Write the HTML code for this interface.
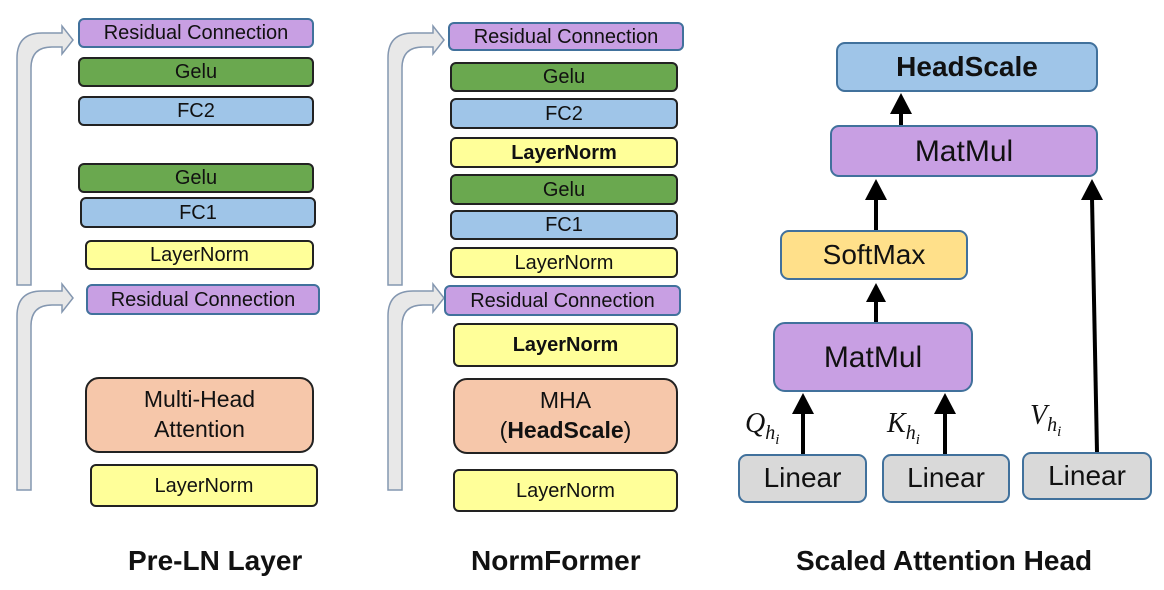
<!DOCTYPE html>
<html><head><meta charset="utf-8"><style>
body{margin:0;width:1164px;height:590px;background:#fff;position:relative;overflow:hidden;font-family:"Liberation Sans",sans-serif}
.b{position:absolute;box-sizing:border-box;border:2px solid #222;border-radius:6px;display:flex;align-items:center;justify-content:center;text-align:center;font-size:20px;color:#111;line-height:1.3}
.p{background:#c89fe3;border-color:#41719c}
.g{background:#6aa84f}
.bl{background:#9fc5e8}
.y{background:#ffff99}
.o{background:#f6c7aa;border-radius:14px;font-size:23px}
.lin{background:#d9d9d9;border-color:#41719c;border-radius:9px;font-size:28px}
.t{position:absolute;font-weight:bold;font-size:28px;color:#111;white-space:nowrap}
.m{position:absolute;font-family:"Liberation Serif",serif;font-style:italic;font-size:28px;color:#111}
.m sub{font-size:20px}
.m sub sub{font-size:15px}
</style></head><body>
<svg width="1164" height="590" style="position:absolute;left:0;top:0">
<g fill="#e8e8e8" stroke="#8497b0" stroke-width="1.5">
<path d="M17 285 L17 58 Q17 33 42 33 L62 33 L62 26 L73 40 L62 54 L62 47 L52 47 Q31 47 31 68 L31 285 Z"/>
<path d="M17 490 L17 316 Q17 291 42 291 L62 291 L62 284 L73 298 L62 312 L62 305 L52 305 Q31 305 31 326 L31 490 Z"/>
<path d="M388 285 L388 58 Q388 33 413 33 L433 33 L433 26 L444 40 L433 54 L433 47 L423 47 Q402 47 402 68 L402 285 Z"/>
<path d="M388 490 L388 316 Q388 291 413 291 L433 291 L433 284 L444 298 L433 312 L433 305 L423 305 Q402 305 402 326 L402 490 Z"/>
</g>
<g stroke="#000" stroke-width="4" fill="#000">
<line x1="803" y1="454" x2="803" y2="412"/><path d="M792 414 L803 393 L814 414Z" stroke="none"/>
<line x1="945" y1="454" x2="945" y2="412"/><path d="M934 414 L945 393 L956 414Z" stroke="none"/>
<line x1="876" y1="322" x2="876" y2="300"/><path d="M866 302 L876 283 L886 302Z" stroke="none"/>
<line x1="876" y1="230" x2="876" y2="198"/><path d="M865 200 L876 179 L887 200Z" stroke="none"/>
<line x1="901" y1="125" x2="901" y2="112"/><path d="M890 114 L901 93 L912 114Z" stroke="none"/>
<line x1="1097" y1="452" x2="1092" y2="198"/><path d="M1081 200 L1092 179 L1103 200Z" stroke="none"/>
</g>
</svg>

<div class="b p" style="left:78px;top:18px;width:236px;height:30px">Residual Connection</div>
<div class="b g" style="left:78px;top:57px;width:236px;height:30px">Gelu</div>
<div class="b bl" style="left:78px;top:96px;width:236px;height:30px">FC2</div>
<div class="b g" style="left:78px;top:163px;width:236px;height:30px">Gelu</div>
<div class="b bl" style="left:80px;top:197px;width:236px;height:31px">FC1</div>
<div class="b y" style="left:85px;top:240px;width:229px;height:30px">LayerNorm</div>
<div class="b p" style="left:86px;top:284px;width:234px;height:31px">Residual Connection</div>
<div class="b o" style="left:85px;top:377px;width:229px;height:76px"><span>Multi-Head<br>Attention</span></div>
<div class="b y" style="left:90px;top:464px;width:228px;height:43px">LayerNorm</div>

<div class="b p" style="left:448px;top:22px;width:236px;height:29px">Residual Connection</div>
<div class="b g" style="left:450px;top:62px;width:228px;height:30px">Gelu</div>
<div class="b bl" style="left:450px;top:98px;width:228px;height:31px">FC2</div>
<div class="b y" style="left:450px;top:137px;width:228px;height:31px;font-weight:bold">LayerNorm</div>
<div class="b g" style="left:450px;top:174px;width:228px;height:31px">Gelu</div>
<div class="b bl" style="left:450px;top:210px;width:228px;height:30px">FC1</div>
<div class="b y" style="left:450px;top:247px;width:228px;height:31px">LayerNorm</div>
<div class="b p" style="left:444px;top:285px;width:237px;height:31px">Residual Connection</div>
<div class="b y" style="left:453px;top:323px;width:225px;height:44px;font-weight:bold">LayerNorm</div>
<div class="b o" style="left:453px;top:378px;width:225px;height:76px"><span>MHA<br>(<b>HeadScale</b>)</span></div>
<div class="b y" style="left:453px;top:469px;width:225px;height:43px">LayerNorm</div>

<div class="b bl" style="left:836px;top:42px;width:262px;height:50px;border-color:#41719c;border-radius:9px;font-size:28px;font-weight:bold">HeadScale</div>
<div class="b p" style="left:830px;top:125px;width:268px;height:52px;border-radius:9px;font-size:30px">MatMul</div>
<div class="b" style="left:780px;top:230px;width:188px;height:50px;background:#ffe08a;border-color:#41719c;border-radius:9px;font-size:28px">SoftMax</div>
<div class="b p" style="left:773px;top:322px;width:200px;height:70px;border-radius:12px;font-size:30px">MatMul</div>
<div class="b lin" style="left:738px;top:454px;width:129px;height:49px">Linear</div>
<div class="b lin" style="left:882px;top:454px;width:128px;height:49px">Linear</div>
<div class="b lin" style="left:1022px;top:452px;width:130px;height:48px">Linear</div>
<div class="m" style="left:745px;top:408px">Q<sub>h<sub>i</sub></sub></div>
<div class="m" style="left:887px;top:408px">K<sub>h<sub>i</sub></sub></div>
<div class="m" style="left:1030px;top:400px">V<sub>h<sub>i</sub></sub></div>

<div class="t" style="left:128px;top:545px">Pre-LN Layer</div>
<div class="t" style="left:471px;top:545px">NormFormer</div>
<div class="t" style="left:796px;top:545px">Scaled Attention Head</div>
</body></html>
